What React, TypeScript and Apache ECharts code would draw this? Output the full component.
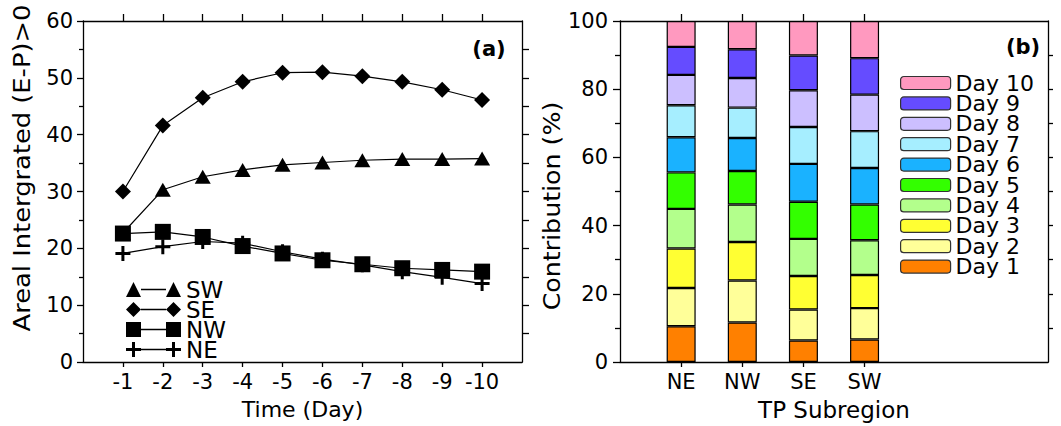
import React, { useEffect, useRef } from "react";
import * as echarts from "echarts";

// Panel (a)
const dayLabels = ["-1", "-2", "-3", "-4", "-5", "-6", "-7", "-8", "-9", "-10"];
const sw = [22.7, 30.3, 32.6, 33.8, 34.7, 35.1, 35.5, 35.7, 35.7, 35.8];
const se = [30.0, 41.6, 46.5, 49.3, 50.9, 51.0, 50.3, 49.3, 47.9, 46.1];
const nw = [22.6, 22.9, 22.0, 20.4, 19.1, 17.9, 17.2, 16.5, 16.2, 15.9];
const ne = [19.1, 20.3, 21.2, 20.9, 19.4, 18.1, 17.1, 15.9, 14.9, 13.8];

// Panel (b): contribution (%) per day, order NE, NW, SE, SW
const subregions = ["NE", "NW", "SE", "SW"];
const day1 = [10.5, 11.6, 6.3, 6.6];
const day2 = [11.2, 12.3, 9.1, 9.2];
const day3 = [11.6, 11.3, 9.8, 9.7];
const day4 = [11.6, 11.0, 10.9, 10.2];
const day5 = [10.7, 9.8, 10.9, 10.5];
const day6 = [10.3, 9.7, 11.1, 10.7];
const day7 = [9.4, 8.9, 10.8, 10.8];
const day8 = [8.9, 8.7, 10.8, 10.7];
const day9 = [8.2, 8.4, 10.2, 10.7];
const day10 = [7.6, 8.3, 10.1, 10.9];
const dayNames = ["Day 1", "Day 2", "Day 3", "Day 4", "Day 5", "Day 6", "Day 7", "Day 8", "Day 9", "Day 10"];
const dayColors = ["#FF8000", "#FFFF99", "#FFFF33", "#B3FF8C", "#33FF00", "#1AB2FF", "#A6EEFF", "#CCBFFF", "#654CFF", "#FF99BF"];

const FONT = "'DejaVu Sans', 'Liberation Sans', Arial, sans-serif";

const ICON_SW = "path://M0,15 L7.5,0 L15,15 Z M15,6.85 H40 V8.15 H15 Z M40,15 L47.5,0 L55,15 Z";
const ICON_SE = "path://M0,7.5 L7.5,0 L15,7.5 L7.5,15 Z M15,6.85 H40 V8.15 H15 Z M40,7.5 L47.5,0 L55,7.5 L47.5,15 Z";
const ICON_NW = "path://M0,0 H15 V15 H0 Z M15,6.85 H40 V8.15 H15 Z M40,0 H55 V15 H40 Z";
const ICON_NE = "path://M6,0 H9 V6 H15 V9 H9 V15 H6 V9 H0 V6 H6 Z M15,6.85 H40 V8.15 H15 Z M46,0 H49 V6 H55 V9 H49 V15 H46 V9 H40 V6 H46 Z";
const PLUS = "path://M6,0 H9 V6 H15 V9 H9 V15 H6 V9 H0 V6 H6 Z";

export default function App() {
  const ref = useRef<HTMLDivElement>(null);
  useEffect(() => {
    if (!ref.current) return;
    const chart = echarts.init(ref.current, null, { renderer: "svg" });
    const leftCats = ["", ...dayLabels, " "];
    const rightCats = ["", ...subregions, " ", "  ", "   "];
    const pad = (arr: number[]) => [null, ...arr, null];
    const padR = (arr: number[]) => [null, ...arr, null, null, null];
    const axisLine = { show: true, onZero: false, lineStyle: { color: "#000", width: 1.3 } };
    const tickStyle = { color: "#000", width: 1.3 };
    const labelStyle = { color: "#000", fontSize: 21, fontFamily: FONT };
    const nameStyle = { color: "#000", fontSize: 22, fontFamily: FONT };
    const days = [day1, day2, day3, day4, day5, day6, day7, day8, day9, day10];
    const lineBase = {
      type: "line",
      xAxisIndex: 0,
      yAxisIndex: 0,
      lineStyle: { color: "#000", width: 1.2 },
      itemStyle: { color: "#000" },
      color: "#000",
    };
    const option: any = {
      animation: false,
      textStyle: { fontFamily: FONT },
      grid: [
        { left: 83, top: 21, width: 439, height: 341 },
        { left: 620, top: 21, width: 439, height: 341 },
      ],
      xAxis: [
        {
          type: "category", gridIndex: 0, data: leftCats, boundaryGap: false, position: "bottom",
          axisLine, axisTick: { show: true, length: 5, lineStyle: tickStyle, interval: (i: number) => i >= 1 && i <= 10 },
          axisLabel: { ...labelStyle, interval: 0, margin: 9 },
          splitLine: { show: false },
          name: "Time (Day)", nameLocation: "middle", nameGap: 36,
          nameTextStyle: { ...nameStyle },
        },
        {
          type: "category", gridIndex: 0, data: leftCats, boundaryGap: false, position: "top",
          axisLine, axisTick: { show: true, length: 7, lineStyle: tickStyle, interval: (i: number) => i >= 1 && i <= 10 },
          axisLabel: { show: false }, splitLine: { show: false },
        },
        {
          type: "category", gridIndex: 1, data: rightCats, boundaryGap: false, position: "bottom",
          axisLine, axisTick: { show: true, length: 5, lineStyle: tickStyle, interval: (i: number) => i >= 1 && i <= 4 },
          axisLabel: { ...labelStyle, interval: 0, margin: 9 },
          splitLine: { show: false },
          name: "TP Subregion", nameLocation: "middle", nameGap: 36,
          nameTextStyle: { ...nameStyle, fontSize: 23 },
        },
        {
          type: "category", gridIndex: 1, data: rightCats, boundaryGap: false, position: "top",
          axisLine, axisTick: { show: true, length: 7, lineStyle: tickStyle, interval: (i: number) => i >= 1 && i <= 4 },
          axisLabel: { show: false }, splitLine: { show: false },
        },
      ],
      yAxis: [
        {
          type: "value", gridIndex: 0, min: 0, max: 60, interval: 10, position: "left",
          axisLine, axisTick: { show: true, length: 6, lineStyle: tickStyle },
          minorTick: { show: true, splitNumber: 2, length: 4, lineStyle: tickStyle },
          axisLabel: { ...labelStyle, margin: 10 }, splitLine: { show: false },
        },
        {
          type: "value", gridIndex: 0, min: 0, max: 60, interval: 5, position: "right",
          axisLine, axisTick: { show: true, length: 7, lineStyle: tickStyle, customValues: [5, 10, 15, 20, 25, 30, 35, 40, 45, 50, 55] },
          axisLabel: { show: false }, splitLine: { show: false },
        },
        {
          type: "value", gridIndex: 1, min: 0, max: 100, interval: 20, position: "left",
          axisLine, axisTick: { show: true, length: 7, lineStyle: tickStyle },
          minorTick: { show: true, splitNumber: 2, length: 5, lineStyle: tickStyle },
          axisLabel: { ...labelStyle, margin: 12 }, splitLine: { show: false },
        },
        {
          type: "value", gridIndex: 1, min: 0, max: 100, interval: 10, position: "right",
          axisLine, axisTick: { show: true, length: 5, lineStyle: tickStyle, customValues: [10, 20, 30, 40, 50, 60, 70, 80, 90] },
          axisLabel: { show: false }, splitLine: { show: false },
        },
      ],
      legend: [
        {
          orient: "vertical", left: 126, top: 278, padding: 0, itemWidth: 55, itemHeight: 15, itemGap: -3,
          textStyle: { color: "#000", fontSize: 23, fontFamily: FONT },
          itemStyle: { borderWidth: 0 },
          data: [
            { name: "SW", icon: ICON_SW },
            { name: "SE", icon: ICON_SE },
            { name: "NW", icon: ICON_NW },
            { name: "NE", icon: ICON_NE },
          ],
        },
        {
          orient: "vertical", left: 900, top: 72, padding: 0, itemWidth: 50, itemHeight: 13, itemGap: -1.6,
          textStyle: { color: "#000", fontSize: 22, fontFamily: FONT },
          itemStyle: { borderColor: "#333", borderWidth: 1.2 },
          data: [...dayNames].reverse(),
        },
      ],
      graphic: [
        { type: "text", x: 489, y: 49, style: { text: "(a)", font: `bold 21px ${FONT}`, fill: "#000", textAlign: "center", textVerticalAlign: "middle" } },
        { type: "text", x: 1023, y: 47, style: { text: "(b)", font: `bold 21px ${FONT}`, fill: "#000", textAlign: "center", textVerticalAlign: "middle" } },
        { type: "text", x: 22, y: 168, rotation: Math.PI / 2, scaleX: 1.12, style: { text: "Areal Intergrated (E-P)>0", font: `23px ${FONT}`, fill: "#000", textAlign: "center", textVerticalAlign: "middle" } },
        { type: "text", x: 552, y: 206, rotation: Math.PI / 2, scaleX: 1.1, style: { text: "Contribution (%)", font: `23px ${FONT}`, fill: "#000", textAlign: "center", textVerticalAlign: "middle" } },
      ],
      series: [
        { ...lineBase, name: "SW", data: pad(sw), symbol: "triangle", symbolSize: [16, 14] },
        { ...lineBase, name: "SE", data: pad(se), symbol: "diamond", symbolSize: [16, 16] },
        { ...lineBase, name: "NW", data: pad(nw), symbol: "rect", symbolSize: [16, 16] },
        { ...lineBase, name: "NE", data: pad(ne), symbol: PLUS, symbolSize: [15, 15] },
        ...days.map((d, i) => ({
          type: "bar",
          name: dayNames[i],
          xAxisIndex: 2,
          yAxisIndex: 2,
          stack: "total",
          barWidth: 29,
          data: padR(d),
          itemStyle: { color: dayColors[i], borderColor: "#000", borderWidth: 1.2 },
        })),
      ],
    };
    chart.setOption(option);
    return () => chart.dispose();
  }, []);
  return <div ref={ref} style={{ position: "absolute", left: 0, top: 0, width: 1061, height: 426 }} />;
}
